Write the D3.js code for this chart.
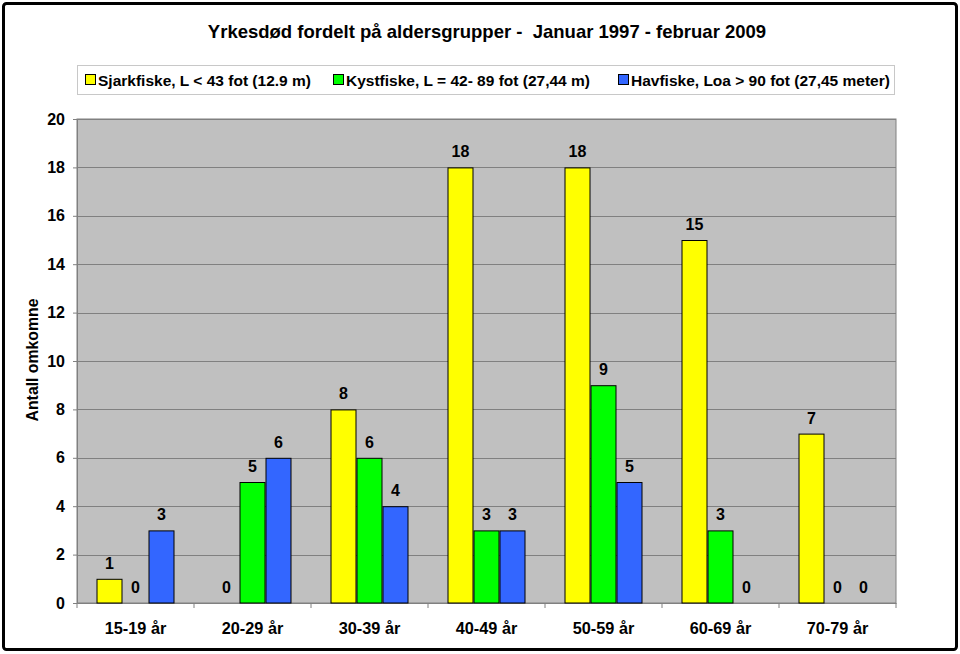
<!DOCTYPE html>
<html><head><meta charset="utf-8">
<script src="https://cdn.jsdelivr.net/npm/d3@7"></script>
<style>body{margin:0;background:#fff}svg{display:block}text{font-family:"Liberation Sans",Arial,sans-serif}</style>
</head><body><svg id="c" width="960" height="654"></svg>
<script>
const categories = ["15-19 år","20-29 år","30-39 år","40-49 år","50-59 år","60-69 år","70-79 år"];
const seriesNames = ["Sjarkfiske, L < 43 fot (12.9 m)","Kystfiske, L = 42- 89 fot (27,44 m)","Havfiske, Loa > 90 fot (27,45 meter)"];
const sjark = [1,0,8,18,18,15,7];
const kyst = [0,5,6,3,9,3,0];
const hav = [3,6,4,3,5,0,0];
const yTicks = [0,2,4,6,8,10,12,14,16,18,20];
const colors = ["#ffff00","#00ff00","#3366ff"];
const series = [sjark,kyst,hav];

const svg = d3.select("#c");
svg.append("rect").attr("x",3.5).attr("y",3.5).attr("width",953).attr("height",646).attr("rx",3)
  .attr("fill","#fff").attr("stroke","#000").attr("stroke-width",3);

const L=77,R=896,T=119,B=603;
const x = d3.scaleBand().domain(categories).range([L,R]).paddingInner(0).paddingOuter(0);
const inner = d3.scaleBand().domain([0,1,2]).range([19.5, x.bandwidth()-19.5]);
const y = d3.scaleLinear().domain([0,20]).range([B,T]);

svg.append("text").attr("x",487).attr("y",38).attr("text-anchor","middle").style("white-space","pre")
  .attr("font-size",18.5).attr("font-weight","bold").text("Yrkesdød fordelt på aldersgrupper -  Januar 1997 - februar 2009");

// legend
const lg = svg.append("g");
lg.append("rect").attr("x",77.5).attr("y",65.5).attr("width",817).attr("height",29).attr("fill","#fff").attr("stroke","#c8c8c8");
const lx = [85,333,618];
seriesNames.forEach((n,i)=>{
  lg.append("rect").attr("x",lx[i]+0.5).attr("y",74.5).attr("width",10).attr("height",10).attr("fill",colors[i]).attr("stroke","#000");
  lg.append("text").attr("x",lx[i]+13).attr("y",85.5).attr("font-size",15.5).attr("font-weight","bold").text(n);
});

svg.append("rect").attr("x",L).attr("y",T).attr("width",R-L).attr("height",B-T).attr("fill","#c0c0c0").attr("stroke","#808080");
svg.append("g").selectAll("line").data(yTicks.filter(d=>d>0)).join("line")
  .attr("x1",L).attr("x2",R).attr("y1",d=>Math.round(y(d))+0.5).attr("y2",d=>Math.round(y(d))+0.5).attr("stroke","#808080");

const yAxis = svg.append("g").attr("transform",`translate(${L},0)`)
  .call(d3.axisLeft(y).tickValues(yTicks).tickSize(4).tickPadding(8));
yAxis.select(".domain").attr("stroke","#808080");
yAxis.selectAll(".tick line").attr("stroke","#808080");
yAxis.selectAll("text").attr("font-size",16).attr("font-weight","bold").attr("fill","#000").style("font-family","Liberation Sans, Arial, sans-serif");

const xAxis = svg.append("g").attr("transform",`translate(0,${B})`)
  .call(d3.axisBottom(x).tickSize(0).tickPadding(19));
xAxis.select(".domain").attr("stroke","#808080");
xAxis.selectAll("text").attr("font-size",16.3).attr("font-weight","bold").attr("fill","#000").style("font-family","Liberation Sans, Arial, sans-serif");
svg.append("g").selectAll("line").data(d3.range(categories.length+1)).join("line")
  .attr("x1",i=>i<categories.length?x(categories[i]):R).attr("x2",i=>i<categories.length?x(categories[i]):R)
  .attr("y1",B).attr("y2",B+5).attr("stroke","#808080");

svg.append("text").attr("transform","translate(38,360) rotate(-90)").attr("text-anchor","middle")
  .attr("font-size",15.8).attr("font-weight","bold").text("Antall omkomne");

series.forEach((s,si)=>{
  const g = svg.append("g");
  g.selectAll("rect").data(s).join("rect")
    .attr("x",(d,i)=>x(categories[i])+inner(si)+0.5).attr("width",inner.bandwidth()-1)
    .attr("y",d=>y(d)+0.5).attr("height",d=>Math.max(0,B-y(d)-0.5))
    .attr("fill",colors[si]).attr("stroke",d=>d>0?"#000":"none");
  g.selectAll("text").data(s).join("text")
    .attr("x",(d,i)=>x(categories[i])+inner(si)+inner.bandwidth()/2).attr("y",d=>y(d)-10)
    .attr("text-anchor","middle").attr("font-size",16).attr("font-weight","bold").text(d=>d);
});
</script></body></html>
